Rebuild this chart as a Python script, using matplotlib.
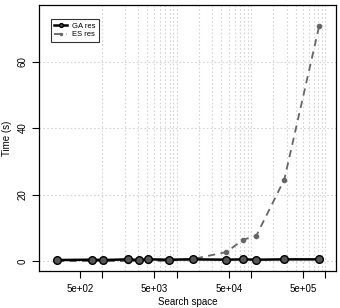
import matplotlib
matplotlib.use("Agg")
import matplotlib.pyplot as plt
import numpy as np

# search space sizes and run times
space = [243, 729, 1024, 2187, 3125, 4096, 7776, 16384, 46656, 78125, 117649, 279936, 823543]
ga_time = [0.3, 0.4, 0.3, 0.5, 0.3, 0.5, 0.4, 0.5, 0.4, 0.5, 0.4, 0.5, 0.5]
es_time = [0.0, 0.0, 0.0, 0.0, 0.0, 0.0, 0.1, 0.6, 2.7, 6.4, 7.6, 24.5, 70.6]

xticks = [500, 1000, 5000, 10000, 50000, 100000, 500000, 1000000]
xlabels = ["5e+02", "", "5e+03", "", "5e+04", "", "5e+05", ""]
yticks = [0, 20, 40, 60]

plt.rcParams['font.family'] = ['Liberation Sans', 'DejaVu Sans']

fig = plt.figure(figsize=(3.4, 3.08), dpi=100)
ax = fig.add_axes([39 / 340, 37 / 308, 297 / 340, 266 / 308])

# dotted grid like abline(h=..., v=...)
for y in yticks:
    ax.axhline(y, color="#d4d4d4", lw=0.8, ls=(0, (1.5, 2)), zorder=0)
vlines = [m * 10 ** k for k in range(3, 7) for m in range(1, 10)]
for v in vlines:
    ax.axvline(v, color="#d4d4d4", lw=0.8, ls=(0, (1.5, 2)), zorder=0)

ax.plot(space, es_time, color="#666666", lw=1.3, ls=(0, (4, 3)),
        marker="o", ms=3, mfc="#666666", mec="#666666", label="ES res", zorder=2)
ax.plot(space, ga_time, color="black", lw=1.8,
        marker="o", ms=5.5, mfc="#555555", mec="black", mew=1.0, label="GA res", zorder=3)

ax.set_xscale("log")
ax.set_xlim(140, 1.39e6)
ax.set_ylim(-3, 77)
ax.minorticks_off()
ax.set_xticks(xticks)
ax.set_xticklabels(xlabels)
ax.set_yticks(yticks)
ax.set_yticklabels([str(y) for y in yticks], rotation=90, va="center")
ax.tick_params(axis="both", labelsize=7, length=5, width=0.8, direction="out")
ax.tick_params(axis="x", pad=4)
ax.tick_params(axis="y", pad=3)

for s in ax.spines.values():
    s.set_linewidth(0.9)

ax.set_xlabel("Search space", fontsize=7, va="center")
ax.xaxis.set_label_coords(0.5, -0.118)
ax.set_ylabel("Time (s)", fontsize=7, va="center")
ax.yaxis.set_label_coords(-0.108, 0.5)

handles, labels = ax.get_legend_handles_labels()
leg = ax.legend(handles[::-1], labels[::-1], loc="upper left", fontsize=5.5,
                frameon=True, fancybox=False, edgecolor="black",
                bbox_to_anchor=(0.04, 0.947), borderpad=0.45, borderaxespad=0,
                handlelength=1.7, handletextpad=0.6, labelspacing=0.15,
                markerscale=0.5)
leg.get_frame().set_linewidth(0.8)

fig.savefig("out.png", dpi=100)
